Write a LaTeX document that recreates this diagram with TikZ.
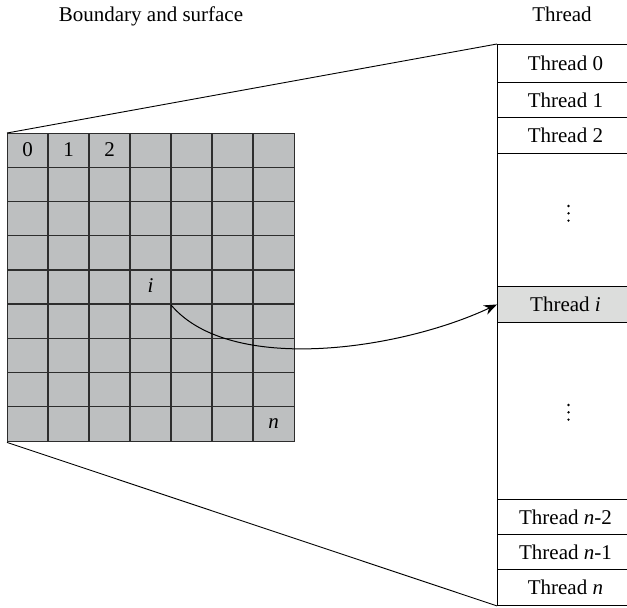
\documentclass[tikz,border=0pt]{standalone}
\usepackage{fontspec}
\setmainfont{Liberation Serif}
\usetikzlibrary{arrows.meta}
\definecolor{cellgray}{RGB}{189,191,192}
\definecolor{hlgray}{RGB}{220,221,220}
\definecolor{gridline}{RGB}{45,45,45}
\begin{document}
\begin{tikzpicture}[x=1pt,y=-1pt,
  font=\fontsize{21}{24}\selectfont,
  gridrule/.style={draw=gridline, line width=1.4pt},
  tcell/.style={draw=black, line width=0.9pt, anchor=north west, minimum width=136pt, inner sep=0pt},
  heading/.style={inner sep=0pt, anchor=base},
  vdot/.style={fill=black, radius=1.3pt}]
\useasboundingbox (0,0) rectangle (627,608);
% headings
\node[heading] (hb) at (151,21) {Boundary and surface};
\node[heading] (ht) at (562,21) {Thread};
% grid
\node[gridrule, fill=cellgray, minimum width=287pt, minimum height=308pt, anchor=north west, inner sep=0pt] (grid) at (7,133) {};
\foreach \i in {1,...,6} \draw[gridrule] ({7+\i*41},133) -- ({7+\i*41},441);
\foreach \j in {1,...,8} \draw[gridrule] (7,{133+\j*34.222}) -- (294,{133+\j*34.222});
\node (c0) at (27.5,150) {0};
\node (c1) at (68.5,150) {1};
\node (c2) at (109.5,150) {2};
\node (ci) at (150.5,286) {\textit{i}};
\node (cn) at (273.5,424) {\textit{n}};
% thread column
\node[tcell, minimum height=38pt] (t0) at (497,44) {Thread 0};
\node[tcell, minimum height=35pt] (t1) at (497,82) {Thread 1};
\node[tcell, minimum height=36pt] (t2) at (497,117) {Thread 2};
\node[tcell, minimum height=133pt] (d1) at (497,153) {};
\node[tcell, minimum height=36pt, fill=hlgray] (ti) at (497,286) {Thread \textit{i}};
\node[tcell, minimum height=177pt] (d2) at (497,322) {};
\node[tcell, minimum height=35pt] (tn2) at (497,499) {Thread \textit{n}-2};
\node[tcell, minimum height=35pt] (tn1) at (497,534) {Thread \textit{n}-1};
\node[tcell, minimum height=36pt] (tn) at (497,569) {Thread \textit{n}};
% vertical ellipses
\foreach \y in {206,213.3,220.6} \fill[vdot] (568.5,\y) circle;
\foreach \y in {405,412.3,419.6} \fill[vdot] (568.5,\y) circle;
% funnel
\draw[line width=0.9pt] (grid.north west) -- (t0.north west);
\draw[line width=0.9pt] (grid.south west) -- (tn.south west);
% arrow
\coordinate (src) at (171,304.9);
\draw[line width=1pt, -{Stealth[length=13pt,width=10pt]}] (src) .. controls (230,375) and (400,350) .. (ti.west);
\end{tikzpicture}
\end{document}
